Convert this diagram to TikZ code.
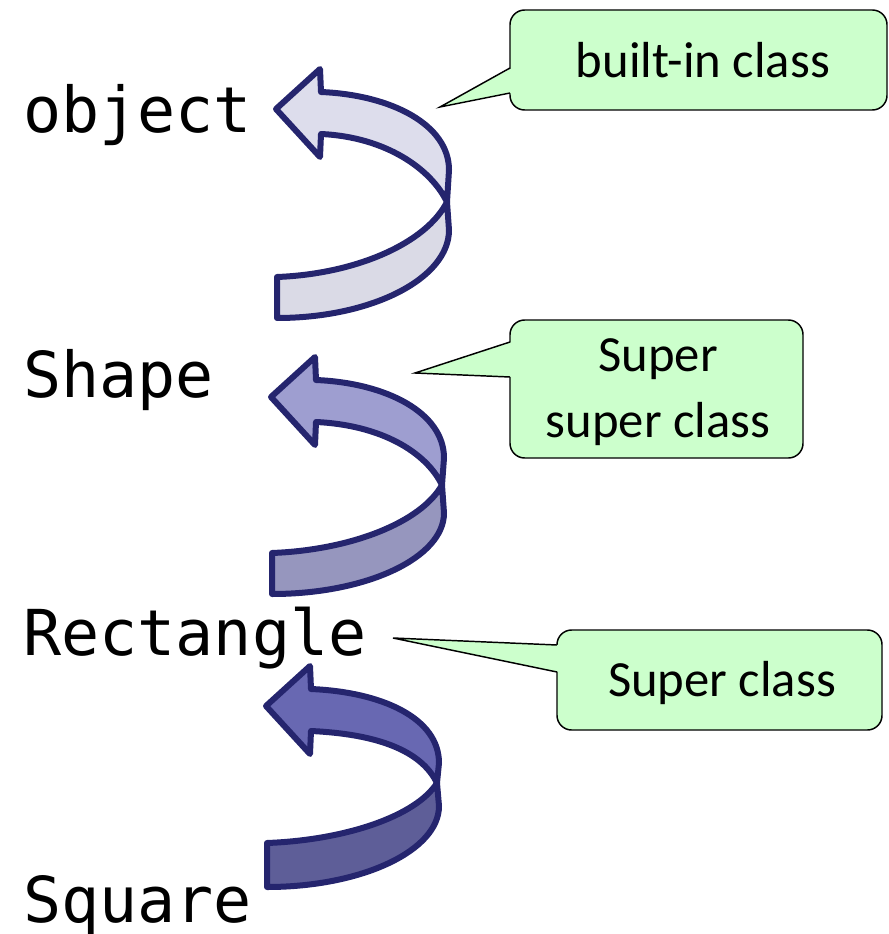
\documentclass[tikz,border=0pt]{standalone}
\usepackage{fontspec}
\setmainfont{Carlito}
\newfontfamily\codefont{DejaVu Sans Mono}
\definecolor{edgeblue}{HTML}{25256E}
\definecolor{calloutgreen}{HTML}{CCFFCC}
\definecolor{aup}{HTML}{DDDDEC}
\definecolor{alow}{HTML}{DADAE6}
\definecolor{bup}{HTML}{9E9ED0}
\definecolor{blow}{HTML}{9696BE}
\definecolor{cup}{HTML}{6868B2}
\definecolor{clow}{HTML}{5E5E98}
\tikzset{
  ribbon/.style={draw=edgeblue, line width=4.5pt, line join=round},
  calloutbox/.style={draw=black, line width=1.1pt, fill=calloutgreen, rounded corners=11pt},
  calloutline/.style={draw=black, line width=1.1pt, line join=miter},
  codelabel/.style={font=\codefont\fontsize{47.5}{50}\selectfont, anchor=base west, inner sep=0pt},
  callouttext/.style={font=\fontsize{38}{50}\selectfont, align=center, inner sep=0pt}
}
% #1 tip x, #2 tip y, #3 R1, #4 M, #5 R2, #6 BT, #7 BL, #8 upper fill, #9 lower fill
\newcommand\ribbonarrow[9]{%
\begin{scope}[shift={(#1,#2)}]
\path[ribbon, fill=#9] (171,#4) -- (173,#5)
   .. controls (173,{#5+0.55*(#7-#5)}) and (96,#7) .. (1,#7) -- (1,#6)
   .. controls (80,{#6-3}) and (150,{#6-0.45*(#6-#4)}) .. (171,#4) -- cycle;
\path[ribbon, fill=#8] (45,-17) .. controls (116,-14) and (173,{#3-45}) .. (173,#3)
   -- (171,#4) .. controls (155,{#4-33}) and (110,28) .. (45,25)
   -- (44,48) -- (0,0) -- (44,-40) -- cycle;
\end{scope}}
% #1 x0, #2 y0, #3 x1, #4 y1, #5 base upper y, #6 base lower y, #7 tip x, #8 tip y
\newcommand\calloutshape[8]{%
\path[calloutbox] (#1,#2) rectangle (#3,#4);
\fill[calloutgreen] (#7,#8) -- ({#1+2},#5) -- ({#1+2},#6) -- cycle;
\draw[calloutline] (#1,#5) -- (#7,#8) -- (#1,#6);
}
\begin{document}
\begin{tikzpicture}[x=0.75pt, y=-0.75pt]
\useasboundingbox (0,0) rectangle (888,934);

% class labels
\node[codelabel] (obj) at (23,133) {object};
\node[codelabel] (shape) at (23,397) {Shape};
\node[codelabel] (rect) at (23,655) {Rectangle};
\node[codelabel] (square) at (23,922) {Square};

% ribbon arrows
\ribbonarrow{276}{109}{61}{93}{121}{168}{209}{aup}{alow}
\ribbonarrow{271}{397}{61}{88}{116}{156}{197}{bup}{blow}
\ribbonarrow{266}{706}{57}{77}{100}{137}{181}{cup}{clow}

% callouts
\calloutshape{510}{10}{887}{110}{68}{93}{440}{107}
\node[callouttext] (c1) at (703,60) {built-in class};
\calloutshape{510}{320}{803}{458}{342}{377}{415}{373}
\node[callouttext] (c2) at (658,392) {Super\\super class};
\calloutshape{557}{630}{882}{730}{645}{672}{393}{638}
\node[callouttext] (c3) at (722,683) {Super class};
\end{tikzpicture}
\end{document}
